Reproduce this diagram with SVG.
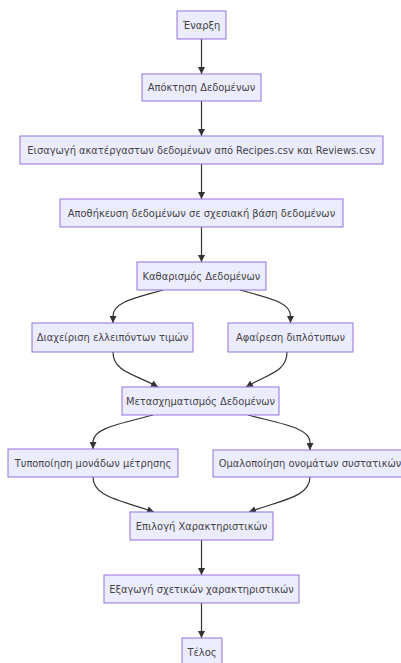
<svg xmlns="http://www.w3.org/2000/svg" width="401" height="663" viewBox="0 0 401 663">
  <style>
    .node rect { fill: #ECECFF; stroke: #9370DB; stroke-width: 1; }
    .node text { font-family: "DejaVu Sans", Verdana, sans-serif; font-size: 9.9px; fill: #444; text-anchor: middle; dominant-baseline: central; }
    .edge { fill: none; stroke: #333; stroke-width: 1.2; marker-end: url(#arrow); }
  </style>
  <defs>
    <marker id="arrow" viewBox="0 0 10 10" refX="10" refY="5" markerWidth="7" markerHeight="7" markerUnits="userSpaceOnUse" orient="auto">
      <path d="M0,0 L10,5 L0,10 z" fill="#333"/>
    </marker>
  </defs>
  <rect width="401" height="663" fill="#ffffff"/>

  <g id="connectors">
    <path class="edge" d="M201.5,39 L201.5,74"/>
    <path class="edge" d="M201.5,101 L201.5,136"/>
    <path class="edge" d="M201.5,164 L201.5,199"/>
    <path class="edge" d="M201.5,227 L201.5,262"/>
    <path class="edge" d="M163,290 C135,298 113,302 113,316 L113,323"/>
    <path class="edge" d="M240,290 C268,298 290.5,302 290.5,316 L290.5,323"/>
    <path class="edge" d="M113,352 C113,372 135,374 158,387"/>
    <path class="edge" d="M287,352 C287,372 268,374 246,387"/>
    <path class="edge" d="M153,415 C120,424 93,428 93,442 L93,449"/>
    <path class="edge" d="M248,415 C282,424 310,428 310,442 L310,450"/>
    <path class="edge" d="M93,477 C93,497 120,500 154,512"/>
    <path class="edge" d="M310,477 C310,497 282,500 249,512"/>
    <path class="edge" d="M201.5,540 L201.5,575"/>
    <path class="edge" d="M201.5,603 L201.5,638"/>
  </g>

  <g id="start" class="node"><rect x="177" y="11" width="49" height="28"/><text x="201.5" y="25">Έναρξη</text></g>
  <g id="acquire" class="node"><rect x="142" y="74" width="119" height="27"/><text x="201.5" y="87.5">Απόκτηση Δεδομένων</text></g>
  <g id="import" class="node"><rect x="20" y="136" width="363" height="28"/><text x="201.5" y="150">Εισαγωγή ακατέργαστων δεδομένων από Recipes.csv και Reviews.csv</text></g>
  <g id="store" class="node"><rect x="60" y="199" width="283" height="28"/><text x="201.5" y="213">Αποθήκευση δεδομένων σε σχεσιακή βάση δεδομένων</text></g>
  <g id="clean" class="node"><rect x="137" y="262" width="129" height="28"/><text x="201.5" y="276">Καθαρισμός Δεδομένων</text></g>
  <g id="missing" class="node"><rect x="32" y="323" width="161" height="29"/><text x="112.5" y="337.5">Διαχείριση ελλειπόντων τιμών</text></g>
  <g id="dedup" class="node"><rect x="228" y="323" width="125" height="29"/><text x="290.5" y="337.5">Αφαίρεση διπλότυπων</text></g>
  <g id="transform" class="node"><rect x="122" y="387" width="157" height="28"/><text x="200.5" y="401">Μετασχηματισμός Δεδομένων</text></g>
  <g id="units" class="node"><rect x="8" y="449" width="170" height="28"/><text x="93" y="463">Τυποποίηση μονάδων μέτρησης</text></g>
  <g id="names" class="node"><rect x="213" y="450" width="194" height="27"/><text x="310" y="463.5">Ομαλοποίηση ονομάτων συστατικών</text></g>
  <g id="select" class="node"><rect x="130" y="512" width="143" height="28"/><text x="201.5" y="526">Επιλογή Χαρακτηριστικών</text></g>
  <g id="extract" class="node"><rect x="104" y="575" width="195" height="28"/><text x="201.5" y="589">Εξαγωγή σχετικών χαρακτηριστικών</text></g>
  <g id="end" class="node"><rect x="182" y="638" width="40" height="28"/><text x="202" y="652">Τέλος</text></g>
</svg>
